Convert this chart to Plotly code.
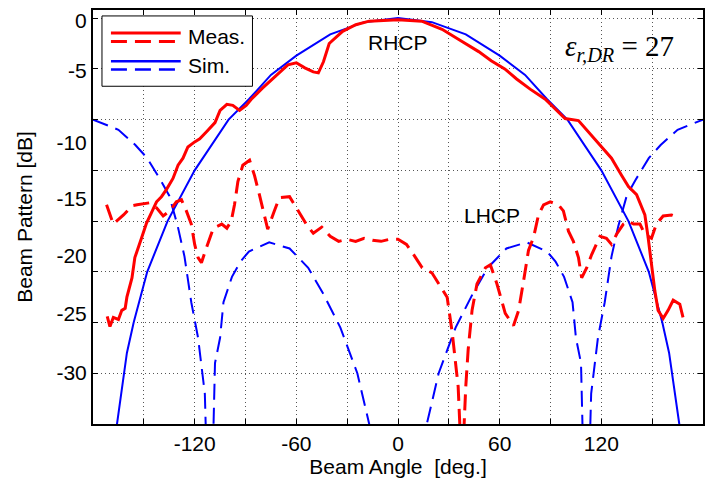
import plotly.graph_objects as go

# ---------------- data ----------------
sim_rhcp_ang = [-170, -166, -160, -156, -148, -136, -120, -100, -88, -75, -60, -40, -20, 0,
                20, 40, 60, 75, 88, 100, 120, 136, 148, 156, 160, 166, 170]
sim_rhcp_db = [-45, -40, -33, -30, -25, -20, -15, -10, -8, -5.6, -3.7, -1.6, -0.4, 0,
               -0.4, -1.6, -3.7, -5.6, -8, -10, -15, -20, -25, -30, -33, -40, -45]

sim_lhcp_ang = [-180, -165, -155, -148, -140, -135, -130, -126, -122, -118, -114, -111,
                -108, -105, -103, -98, -93, -88, -76, -64, -53, -44, -34, -24, -17, -12, 0,
                12, 17, 24, 34, 44, 53, 64, 76, 88, 93, 98, 103, 105, 108,
                111, 114, 118, 122, 126, 130, 135, 140, 148, 155, 165, 180]
sim_lhcp_db = [-10, -11, -12.5, -13.8, -16.0, -17.5, -20.5, -23.5, -28, -31.5, -37, -55,
               -34, -31.5, -28, -25.5, -24.0, -23.0, -22.1, -22.7, -24.6, -27.2, -30.5, -35, -40, -50, -70,
               -50, -40, -35, -30.5, -27.2, -24.6, -22.7, -22.1, -23.0, -24.0, -25.5, -28, -31.5, -34,
               -55, -37, -31.5, -28, -23.5, -20.5, -17.5, -16.0, -13.8, -12.5, -11, -10]

meas_rhcp_ang = [-171.6, -170, -168, -165, -163, -161, -160, -157, -155.3, -153.3, -151.4, -148.4,
                 -145.5, -142.5, -139.6, -136.7, -132.8, -129.8, -126.9, -124, -120, -117, -113,
                 -108, -105, -101, -97.5, -93.5, -89.6, -86.6, -80, -72, -65, -60, -55, -50, -47,
                 -44, -40.6, -32.7, -24.9, -17, 0, 14, 26, 37.8, 47.6, 55, 63, 70, 78, 86.9, 90.8,
                 98.6, 106.5, 114.3, 119.2, 126, 132, 136, 140.8, 145.7, 147.6, 149.6, 151.6,
                 153.5, 156.5, 159.4, 162.4, 166.3, 168.2]
meas_rhcp_db = [-29.4, -30.4, -29.5, -29.7, -28.8, -28.6, -27.5, -25.6, -23.6, -22.5, -21.7, -20.2,
                -19.2, -18.1, -17.6, -16.9, -15.8, -14.5, -13.8, -12.7, -12.2, -11.9, -11.2,
                -10.3, -9.1, -8.5, -8.6, -9.1, -8.6, -8.0, -6.9, -5.7, -4.6, -4.4, -4.9, -5.3, -5.4,
                -4.3, -2.5, -1.3, -0.65, -0.3, -0.17, -0.3, -1.1, -2.3, -3.3, -4.2, -5.0, -6.0, -7.0, -8.0, -8.6,
                -9.9, -10.1, -11.6, -12.5, -13.8, -15.5, -16.6, -17.4, -19.4, -21.6, -24.3, -26.9,
                -28.8, -29.6, -28.8, -27.8, -28.2, -29.5]

meas_lhcp_ang = [-172, -168, -162, -157, -154, -146.5, -142.5, -138.6, -134.7, -130.8, -127.8,
                 -124.9, -122, -120, -118, -116, -113, -109, -104, -101, -98.4, -96.5, -94.5,
                 -91.6, -87.6, -84.7, -81.8, -78.8, -76.9, -73, -70, -64, -60, -56.3, -53.4,
                 -50, -45, -40, -35, -30, -25, -20, -15, -10, -5, 0, 5, 10, 14.3, 20, 26, 29,
                 32, 34, 35.5, 37, 38.5, 40, 41.4, 43.7, 46.6, 51.6, 54.5, 58.4, 63.3, 68.2,
                 71.2, 74.1, 77, 80, 82.9, 85.9, 89.8, 94.7, 97.6, 100.6, 103.5, 106.5, 108.4,
                 111.4, 114.3, 119.2, 123, 126, 129, 133, 136, 139, 142.8, 145.7, 149.6, 152.5,
                 156.5, 161.4, 166.3]
meas_lhcp_db = [-18.4, -20.3, -19.4, -18.5, -18.4, -18.2, -18.7, -19.5, -19.0, -18.1, -17.9,
                -19.0, -20.3, -22.3, -23.6, -24.1, -22.6, -20.7, -20.3, -20.7, -20.0, -18.4, -16.1,
                -14.5, -14.0, -15.5, -17.4, -19.4, -20.8, -19.0, -17.7, -17.6, -18.7, -19.7, -20.5,
                -21.2, -20.6, -21.5, -22.0, -21.8, -22.0, -21.7, -21.9, -22.0, -21.8, -21.8, -22.3,
                -23.5, -24.6, -25.1, -26.7, -27.5,
                -31.0, -33.7, -36.3, -42, -42, -36.3, -32.7, -28.8, -26.2, -24.6, -24.3, -26.2,
                -29.1, -30.3, -28.8, -25.9, -22.9, -21.6, -19.4, -18.4, -18.1, -18.4, -19.0,
                -21.0, -22.0, -23.6, -25.6, -24.6, -23.3, -21.5, -21.7, -22.3, -21.3, -20.3,
                -20.0, -20.3, -20.3, -21.3, -21.7, -20.3, -19.5, -19.4, -19.7]

x_label_vals = [-120, -60, 0, 60, 120]
x_label_text = ["-120", "-60", "0", "60", "120"]
x_minor_vals = [-150, -90, -30, 30, 90, 150]
y_grid_vals = [0, -5, -10, -15, -20, -25, -30, -35]
y_label_vals = [-0.2, -5.2, -12.3, -17.75, -23.4, -29.1, -34.95]
y_label_text = ["0", "-5", "-10", "-15", "-20", "-25", "-30"]

# ---------------- figure ----------------
W, H = 710, 479
ML, MR, MT, MB = 93, 5, 10, 51
FONT = "Arial, Liberation Sans, sans-serif"
RED, BLUE = "#ff0000", "#0000ff"
DASH = "16px,8px"
GRID = dict(showgrid=True, gridcolor="#555555", gridwidth=1, griddash="1px,3px")

fig = go.Figure()
fig.add_trace(go.Scatter(x=sim_rhcp_ang, y=sim_rhcp_db, mode="lines",
                         line=dict(color=BLUE, width=2), showlegend=False))
fig.add_trace(go.Scatter(x=sim_lhcp_ang, y=sim_lhcp_db, mode="lines",
                         line=dict(color=BLUE, width=2, dash=DASH), showlegend=False))
fig.add_trace(go.Scatter(x=meas_rhcp_ang, y=meas_rhcp_db, mode="lines",
                         line=dict(color=RED, width=3), showlegend=False))
fig.add_trace(go.Scatter(x=meas_lhcp_ang, y=meas_lhcp_db, mode="lines",
                         line=dict(color=RED, width=3, dash=DASH), showlegend=False))

pw, ph = W - ML - MR, H - MT - MB


def px(xp):
    return (xp - ML) / pw


def py(yp):
    return (H - MB - yp) / ph


shapes = [dict(type="rect", xref="paper", yref="paper", x0=px(102), x1=px(253), y0=py(87), y1=py(16),
               line=dict(color="black", width=1), fillcolor="white", layer="above")]
for yy, col, dash in [(33.3, RED, "solid"), (41.7, RED, DASH), (61.7, BLUE, "solid"), (70, BLUE, DASH)]:
    shapes.append(dict(type="line", xref="paper", yref="paper", x0=px(111), x1=px(181),
                       y0=py(yy), y1=py(yy), line=dict(color=col, width=3 if col == RED else 2.5, dash=dash),
                       layer="above"))

annotations = [
    dict(xref="paper", yref="paper", x=px(186), y=py(37), text="Meas.", showarrow=False,
         xanchor="left", yanchor="middle", font=dict(family=FONT, size=21, color="black")),
    dict(xref="paper", yref="paper", x=px(186), y=py(66), text="Sim.", showarrow=False,
         xanchor="left", yanchor="middle", font=dict(family=FONT, size=21, color="black")),
    dict(x=0, y=-2.4, text="RHCP", showarrow=False, xanchor="center", yanchor="middle",
         font=dict(family=FONT, size=21, color="black")),
    dict(x=55.6, y=-19.5, text="LHCP", showarrow=False, xanchor="center", yanchor="middle",
         font=dict(family=FONT, size=21, color="black")),
    dict(x=131, y=-2.9, text="<i>ε<sub>r,DR</sub></i> = 27", showarrow=False, xanchor="center",
         yanchor="middle", font=dict(family="Liberation Serif, Times New Roman, serif", size=29, color="black")),
]

fig.update_layout(
    width=W, height=H, margin=dict(l=ML, r=MR, t=MT, b=MB),
    paper_bgcolor="white", plot_bgcolor="white",
    font=dict(family=FONT, size=21, color="black"),
    shapes=shapes, annotations=annotations, showlegend=False,
)
fig.update_xaxes(
    range=[-180, 180], tickmode="array", tickvals=x_label_vals, ticktext=x_label_text,
    ticks="inside", ticklen=5, tickwidth=1, tickcolor="black", **GRID,
    minor=dict(tickmode="array", tickvals=x_minor_vals, ticks="inside", ticklen=5, tickwidth=1,
               tickcolor="black", **GRID),
    showline=True, linecolor="black", linewidth=2, mirror="ticks", zeroline=False,
    title=dict(text="Beam Angle  [deg.]", standoff=4, font=dict(size=21)),
    tickfont=dict(size=21),
)
fig.update_yaxes(
    range=[-40, 0.8], tickmode="array", tickvals=y_label_vals, ticktext=y_label_text,
    ticks="", showgrid=False,
    minor=dict(tickmode="array", tickvals=y_grid_vals, ticks="inside", ticklen=5, tickwidth=1,
               tickcolor="black", **GRID),
    showline=True, linecolor="black", linewidth=2, mirror="ticks", zeroline=False,
    title=dict(text="Beam Pattern [dB]", standoff=18, font=dict(size=21)),
    tickfont=dict(size=21),
)

fig.write_html("out.html")
